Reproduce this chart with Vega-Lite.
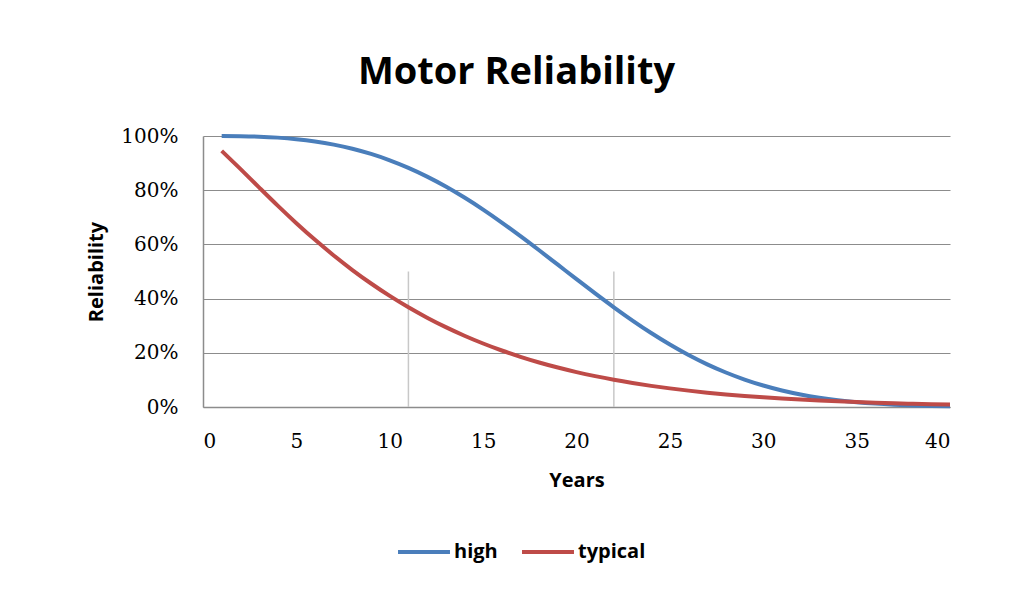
{
  "$schema": "https://vega.github.io/schema/vega-lite/v6.json",
  "width": 747,
  "height": 271,
  "autosize": {"type": "none"},
  "padding": {"left": 203, "top": 136, "right": 71, "bottom": 189},
  "background": "white",
  "title": {
    "text": "Motor Reliability",
    "font": "Open Sans",
    "fontSize": 38,
    "fontWeight": "bold",
    "color": "#000000",
    "anchor": "middle",
    "dx": -60,
    "offset": 34
  },
  "config": {
    "view": {"stroke": null},
    "axis": {
      "labelFont": "DejaVu Serif",
      "labelFontSize": 20,
      "labelColor": "#000000",
      "titleFont": "Open Sans",
      "titleFontSize": 20,
      "titleFontWeight": "bold",
      "titleColor": "#000000",
      "domainColor": "#8c8c8c",
      "gridColor": "#8c8c8c",
      "gridWidth": 1.2,
      "ticks": false
    }
  },
  "datasets": {
    "curves": [
      {"year": 1, "series": "high", "value": 0.9999},
      {"year": 2, "series": "high", "value": 0.9992},
      {"year": 3, "series": "high", "value": 0.9975},
      {"year": 4, "series": "high", "value": 0.9940},
      {"year": 5, "series": "high", "value": 0.9883},
      {"year": 6, "series": "high", "value": 0.9799},
      {"year": 7, "series": "high", "value": 0.9683},
      {"year": 8, "series": "high", "value": 0.9531},
      {"year": 9, "series": "high", "value": 0.9338},
      {"year": 10, "series": "high", "value": 0.9104},
      {"year": 11, "series": "high", "value": 0.8825},
      {"year": 12, "series": "high", "value": 0.8502},
      {"year": 13, "series": "high", "value": 0.8136},
      {"year": 14, "series": "high", "value": 0.7728},
      {"year": 15, "series": "high", "value": 0.7284},
      {"year": 16, "series": "high", "value": 0.6807},
      {"year": 17, "series": "high", "value": 0.6304},
      {"year": 18, "series": "high", "value": 0.5783},
      {"year": 19, "series": "high", "value": 0.5251},
      {"year": 20, "series": "high", "value": 0.4718},
      {"year": 21, "series": "high", "value": 0.4191},
      {"year": 22, "series": "high", "value": 0.3679},
      {"year": 23, "series": "high", "value": 0.3190},
      {"year": 24, "series": "high", "value": 0.2730},
      {"year": 25, "series": "high", "value": 0.2305},
      {"year": 26, "series": "high", "value": 0.1919},
      {"year": 27, "series": "high", "value": 0.1575},
      {"year": 28, "series": "high", "value": 0.1273},
      {"year": 29, "series": "high", "value": 0.1012},
      {"year": 30, "series": "high", "value": 0.0792},
      {"year": 31, "series": "high", "value": 0.0609},
      {"year": 32, "series": "high", "value": 0.0461},
      {"year": 33, "series": "high", "value": 0.0342},
      {"year": 34, "series": "high", "value": 0.0249},
      {"year": 35, "series": "high", "value": 0.0178},
      {"year": 36, "series": "high", "value": 0.0125},
      {"year": 37, "series": "high", "value": 0.0086},
      {"year": 38, "series": "high", "value": 0.0058},
      {"year": 39, "series": "high", "value": 0.0038},
      {"year": 40, "series": "high", "value": 0.0025},
      {"year": 1, "series": "typical", "value": 0.9453},
      {"year": 2, "series": "typical", "value": 0.8787},
      {"year": 3, "series": "typical", "value": 0.8103},
      {"year": 4, "series": "typical", "value": 0.7430},
      {"year": 5, "series": "typical", "value": 0.6783},
      {"year": 6, "series": "typical", "value": 0.6168},
      {"year": 7, "series": "typical", "value": 0.5592},
      {"year": 8, "series": "typical", "value": 0.5054},
      {"year": 9, "series": "typical", "value": 0.4557},
      {"year": 10, "series": "typical", "value": 0.4099},
      {"year": 11, "series": "typical", "value": 0.3679},
      {"year": 12, "series": "typical", "value": 0.3296},
      {"year": 13, "series": "typical", "value": 0.2947},
      {"year": 14, "series": "typical", "value": 0.2630},
      {"year": 15, "series": "typical", "value": 0.2343},
      {"year": 16, "series": "typical", "value": 0.2085},
      {"year": 17, "series": "typical", "value": 0.1852},
      {"year": 18, "series": "typical", "value": 0.1643},
      {"year": 19, "series": "typical", "value": 0.1456},
      {"year": 20, "series": "typical", "value": 0.1288},
      {"year": 21, "series": "typical", "value": 0.1139},
      {"year": 22, "series": "typical", "value": 0.1005},
      {"year": 23, "series": "typical", "value": 0.0886},
      {"year": 24, "series": "typical", "value": 0.0780},
      {"year": 25, "series": "typical", "value": 0.0687},
      {"year": 26, "series": "typical", "value": 0.0604},
      {"year": 27, "series": "typical", "value": 0.0530},
      {"year": 28, "series": "typical", "value": 0.0465},
      {"year": 29, "series": "typical", "value": 0.0407},
      {"year": 30, "series": "typical", "value": 0.0357},
      {"year": 31, "series": "typical", "value": 0.0312},
      {"year": 32, "series": "typical", "value": 0.0273},
      {"year": 33, "series": "typical", "value": 0.0238},
      {"year": 34, "series": "typical", "value": 0.0208},
      {"year": 35, "series": "typical", "value": 0.0181},
      {"year": 36, "series": "typical", "value": 0.0158},
      {"year": 37, "series": "typical", "value": 0.0137},
      {"year": 38, "series": "typical", "value": 0.0120},
      {"year": 39, "series": "typical", "value": 0.0104},
      {"year": 40, "series": "typical", "value": 0.0090}
    ],
    "markers": [
      {"year": 11, "low": 0, "high": 0.5},
      {"year": 22, "low": 0, "high": 0.5}
    ]
  },
  "layer": [
    {
      "data": {"name": "markers"},
      "mark": {"type": "rule", "color": "#c8c8c8", "strokeWidth": 1.5},
      "encoding": {
        "x": {"field": "year", "type": "quantitative", "scale": {"domain": [0, 40]}},
        "y": {"field": "low", "type": "quantitative", "scale": {"domain": [0, 1]}},
        "y2": {"field": "high"}
      }
    },
    {
      "data": {"name": "curves"},
      "mark": {"type": "line", "strokeWidth": 4, "interpolate": "monotone"},
      "encoding": {
        "x": {
          "field": "year", "type": "quantitative",
          "scale": {"domain": [0, 40], "nice": false},
          "axis": {"values": [0, 5, 10, 15, 20, 25, 30, 35, 40], "grid": false, "title": "Years", "labelPadding": 24, "titlePadding": 19, "domainWidth": 1.5}
        },
        "y": {
          "field": "value", "type": "quantitative",
          "scale": {"domain": [0, 1], "nice": false},
          "axis": {"values": [0, 0.2, 0.4, 0.6, 0.8, 1], "format": ".0%", "title": "Reliability", "labelPadding": 25, "titlePadding": 14, "domainWidth": 1.5}
        },
        "color": {
          "field": "series", "type": "nominal",
          "scale": {"domain": ["high", "typical"], "range": ["#4a7ebb", "#be4b48"]},
          "legend": {
            "title": null,
            "orient": "none",
            "direction": "horizontal",
            "legendX": 193,
            "legendY": 388,
            "padding": 0,
            "symbolType": "stroke",
            "symbolSize": 2700,
            "symbolStrokeWidth": 4,
            "labelFont": "Open Sans",
            "labelFontSize": 20,
            "labelFontWeight": "bold",
            "labelColor": "#000000",
            "labelOffset": 2,
            "columnPadding": 16
          }
        }
      }
    }
  ]
}
